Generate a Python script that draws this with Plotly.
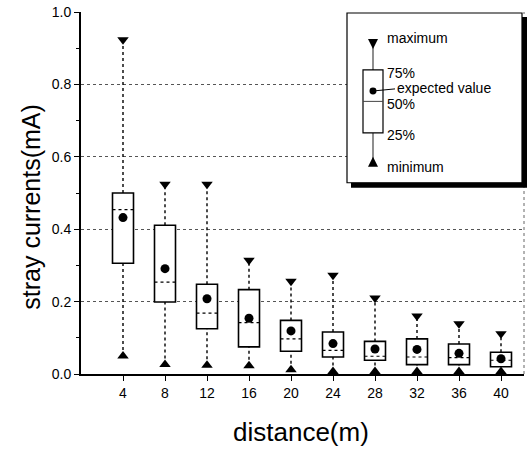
import plotly.graph_objects as go

distance = [4, 8, 12, 16, 20, 24, 28, 32, 36, 40]
maximum = [0.923, 0.524, 0.524, 0.314, 0.256, 0.273, 0.210, 0.160, 0.139, 0.111]
q3 = [0.500, 0.411, 0.248, 0.233, 0.148, 0.116, 0.090, 0.097, 0.083, 0.060]
median = [0.454, 0.254, 0.168, 0.142, 0.097, 0.065, 0.049, 0.047, 0.045, 0.038]
mean = [0.432, 0.291, 0.208, 0.154, 0.119, 0.084, 0.069, 0.068, 0.057, 0.042]
q1 = [0.306, 0.199, 0.125, 0.075, 0.063, 0.047, 0.038, 0.026, 0.026, 0.020]
minimum = [0.050, 0.026, 0.024, 0.023, 0.012, 0.007, 0.007, 0.007, 0.007, 0.007]

FONT = "Liberation Sans, Arial, Helvetica, sans-serif"
HALF = 1.0  # half box width in data units

# plot area in pixels (for the key drawn in paper coords)
L, R, T, B = 81, 524, 12, 374.5
W, H = 528, 454


def px(x):
    return (x - L) / (R - L)


def py(y):
    return (B - y) / (B - T)


fig = go.Figure()

# whiskers (dotted)
wx, wy = [], []
for d, lo, a, b, hi in zip(distance, minimum, q1, q3, maximum):
    wx += [d, d, None, d, d, None]
    wy += [lo, a, None, b, hi, None]
fig.add_trace(go.Scatter(x=wx, y=wy, mode="lines",
                         line=dict(color="black", width=1.4, dash="dot"),
                         hoverinfo="skip", showlegend=False))

shapes = []
for d, a, m, b in zip(distance, q1, median, q3):
    shapes.append(dict(type="rect", xref="x", yref="y", x0=d - HALF, x1=d + HALF,
                       y0=a, y1=b, line=dict(color="black", width=1.6),
                       fillcolor="white", layer="between"))
    shapes.append(dict(type="line", xref="x", yref="y", x0=d - HALF, x1=d + HALF,
                       y0=m, y1=m, line=dict(color="black", width=1.2, dash="dot"),
                       layer="between"))

fig.add_trace(go.Scatter(x=distance, y=maximum, mode="markers",
                         marker=dict(symbol="triangle-down", size=10, color="black"),
                         showlegend=False))
fig.add_trace(go.Scatter(x=distance, y=minimum, mode="markers",
                         marker=dict(symbol="triangle-up", size=10, color="black"),
                         showlegend=False))
fig.add_trace(go.Scatter(x=distance, y=mean, mode="markers",
                         marker=dict(symbol="circle", size=9, color="black"),
                         showlegend=False))

# right dotted frame edge
shapes.append(dict(type="line", xref="paper", yref="paper", x0=1, x1=1, y0=0, y1=1,
                   line=dict(color="#666", width=1, dash="dot")))

# key box (shadow + frame)
shapes.append(dict(type="rect", xref="paper", yref="paper",
                   x0=px(351), x1=px(527), y0=py(188), y1=py(17),
                   fillcolor="black", line=dict(width=0), layer="above"))
shapes.append(dict(type="rect", xref="paper", yref="paper",
                   x0=px(347), x1=px(522), y0=py(183), y1=py(13),
                   fillcolor="white", line=dict(color="black", width=1.2), layer="above"))
# key glyph
kx = 373
shapes.append(dict(type="line", xref="paper", yref="paper", x0=px(kx), x1=px(kx),
                   y0=py(45), y1=py(70), line=dict(color="#444", width=1.2), layer="above"))
shapes.append(dict(type="line", xref="paper", yref="paper", x0=px(kx), x1=px(kx),
                   y0=py(133), y1=py(160), line=dict(color="#444", width=1.2), layer="above"))
shapes.append(dict(type="rect", xref="paper", yref="paper", x0=px(363), x1=px(383),
                   y0=py(133), y1=py(70), fillcolor="white",
                   line=dict(color="black", width=1.2), layer="above"))
shapes.append(dict(type="line", xref="paper", yref="paper", x0=px(363), x1=px(383),
                   y0=py(101.5), y1=py(101.5), line=dict(color="#444", width=1), layer="above"))
shapes.append(dict(type="line", xref="paper", yref="paper", x0=px(374), x1=px(395),
                   y0=py(91), y1=py(89), line=dict(color="black", width=1), layer="above"))
shapes.append(dict(type="path", xref="paper", yref="paper",
                   path=f"M {px(368)},{py(39)} L {px(378)},{py(39)} L {px(373)},{py(49)} Z",
                   fillcolor="black", line=dict(width=0), layer="above"))
shapes.append(dict(type="path", xref="paper", yref="paper",
                   path=f"M {px(368)},{py(167)} L {px(378)},{py(167)} L {px(373)},{py(157)} Z",
                   fillcolor="black", line=dict(width=0), layer="above"))
shapes.append(dict(type="circle", xref="paper", yref="paper",
                   x0=px(369.5), x1=px(376.5), y0=py(94.5), y1=py(87.5),
                   fillcolor="black", line=dict(width=0), layer="above"))

key_texts = [("maximum", 385, 38), ("75%", 385, 73), ("expected value", 395, 88),
             ("50%", 385, 104), ("25%", 385, 135), ("minimum", 385, 167)]
annotations = []
for t, x, y in key_texts:
    annotations.append(dict(text=t, xref="paper", yref="paper", x=px(x), y=py(y),
                            xanchor="left", yanchor="middle", showarrow=False,
                            font=dict(family=FONT, size=14, color="black")))

# axis titles
annotations.append(dict(text="distance(m)", xref="paper", yref="paper",
                        x=px(300.5), y=py(433), xanchor="center", yanchor="middle",
                        showarrow=False, font=dict(family=FONT, size=26, color="black")))
annotations.append(dict(text="stray currents(mA)", xref="paper", yref="paper",
                        x=px(31), y=py(207), xanchor="center", yanchor="middle",
                        textangle=-90, showarrow=False,
                        font=dict(family=FONT, size=25, color="black")))

fig.update_layout(
    width=W, height=H,
    margin=dict(l=L, r=W - R, t=T, b=H - B),
    paper_bgcolor="white", plot_bgcolor="white",
    shapes=shapes, annotations=annotations,
    xaxis=dict(range=[0, 4 * (R - L) / (123 - L)], tickvals=distance,
               ticktext=[str(d) for d in distance], showgrid=False, zeroline=False,
               showline=True, linecolor="black", linewidth=2,
               ticks="outside", ticklen=5, tickwidth=1.2, tickcolor="black",
               tickfont=dict(family=FONT, size=14, color="black")),
    yaxis=dict(range=[0, 1.0], tickvals=[0, 0.2, 0.4, 0.6, 0.8, 1.0],
               ticktext=["0.0", "0.2", "0.4", "0.6", "0.8", "1.0"],
               showgrid=True, gridcolor="#555", griddash="dot", gridwidth=1,
               zeroline=False, showline=True, linecolor="black", linewidth=2,
               ticks="outside", ticklen=5, tickwidth=1.2, tickcolor="black",
               minor=dict(tickvals=[0.1, 0.3, 0.5, 0.7, 0.9], ticks="outside",
                          ticklen=3, tickcolor="black", showgrid=False),
               tickfont=dict(family=FONT, size=14, color="black")),
)

fig.write_html("out.html")
